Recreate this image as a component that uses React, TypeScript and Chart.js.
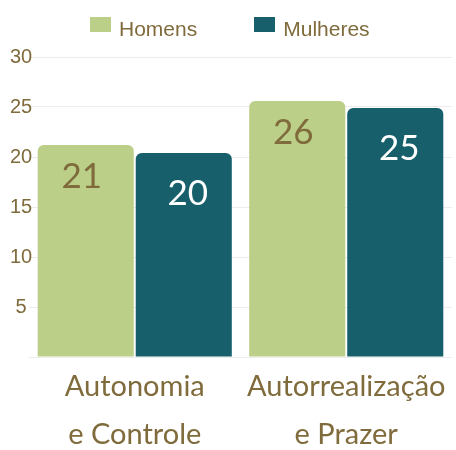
import React, { useEffect, useRef } from "react";
import { Chart, registerables } from "chart.js";

Chart.register(...registerables);

const categories: string[][] = [
  ["Autonomia", "e Controle"],
  ["Autorrealização", "e Prazer"],
];
const seriesNames = ["Homens", "Mulheres"];
const homens = [21.2, 25.6];
const mulheres = [20.4, 24.9];
const yTicks = [0, 5, 10, 15, 20, 25, 30];

const GREEN = "#bccf88";
const TEAL = "#17606b";
const BROWN = "#7f6b3b";
const GRID = "#ececec";

const seriesColors = [GREEN, TEAL];
const labelColors = [BROWN, "#ffffff"];
const labelOffsets = [
  { dx: -4, dy: 32 },
  { dx: 4, dy: 41 },
];

const valueLabels = {
  id: "valueLabels",
  afterDatasetsDraw(chart: any) {
    const ctx = chart.ctx;
    chart.data.datasets.forEach((ds: any, di: number) => {
      const meta = chart.getDatasetMeta(di);
      meta.data.forEach((bar: any, i: number) => {
        const v = ds.data[i] as number;
        ctx.save();
        ctx.font = "35px Lato";
        ctx.fillStyle = labelColors[di];
        ctx.textAlign = "center";
        ctx.textBaseline = "middle";
        ctx.fillText(
          String(Math.round(v)),
          bar.x + labelOffsets[di].dx,
          bar.y + labelOffsets[di].dy
        );
        ctx.restore();
      });
    });
  },
};

export default function App() {
  const ref = useRef<HTMLCanvasElement | null>(null);

  useEffect(() => {
    if (!ref.current) return;
    const chart = new Chart(ref.current, {
      type: "bar",
      data: {
        labels: categories,
        datasets: [
          {
            label: seriesNames[0],
            data: homens,
            backgroundColor: seriesColors[0],
            borderWidth: 0,
            borderRadius: 6,
            categoryPercentage: 0.927,
            barPercentage: 0.98,
          },
          {
            label: seriesNames[1],
            data: mulheres,
            backgroundColor: seriesColors[1],
            borderWidth: 0,
            borderRadius: 6,
            categoryPercentage: 0.927,
            barPercentage: 0.98,
          },
        ],
      },
      options: {
        animation: false,
        responsive: true,
        maintainAspectRatio: false,
        layout: { padding: { top: 57, right: 4, left: 0, bottom: 0 } },
        plugins: {
          legend: { display: false },
          tooltip: { enabled: false },
        },
        scales: {
          x: {
            grid: { display: false, drawTicks: false },
            border: { display: false },
            ticks: {
              color: BROWN,
              font: { family: "Lato", size: 29, lineHeight: "48px" },
              padding: 6,
              maxRotation: 0,
              autoSkip: false,
            },
            afterFit: (s: any) => {
              s.height = 93;
            },
          },
          y: {
            min: 0,
            max: 30,
            grid: { color: GRID, drawTicks: false },
            border: { display: false },
            afterBuildTicks: (s: any) => {
              s.ticks = yTicks.map((v) => ({ value: v }));
            },
            ticks: {
              color: BROWN,
              font: { family: "Liberation Sans", size: 20 },
              mirror: true,
              crossAlign: "center",
              padding: -19,
              z: 1,
              callback: (v: any) => (v === 0 ? "" : String(v)),
            },
            afterFit: (s: any) => {
              s.width = 29;
            },
          },
        },
      },
      plugins: [valueLabels],
    });
    return () => chart.destroy();
  }, []);

  return (
    <div
      style={{
        position: "fixed",
        left: 0,
        top: 0,
        width: 456,
        height: 450,
        background: "#ffffff",
      }}
    >
      <canvas ref={ref} />
      <div
        style={{
          position: "absolute",
          left: 90,
          top: 17,
          display: "flex",
          gap: 57,
          fontFamily: "'Liberation Sans', Arial, sans-serif",
          fontSize: 21,
          lineHeight: "24px",
          color: BROWN,
        }}
      >
        {seriesNames.map((name, i) => (
          <div key={name} style={{ display: "flex", alignItems: "flex-start" }}>
            <span
              style={{
                display: "inline-block",
                width: 21,
                height: 15,
                marginTop: 0,
                marginRight: 8,
                background: seriesColors[i],
              }}
            />
            <span>{name}</span>
          </div>
        ))}
      </div>
    </div>
  );
}
